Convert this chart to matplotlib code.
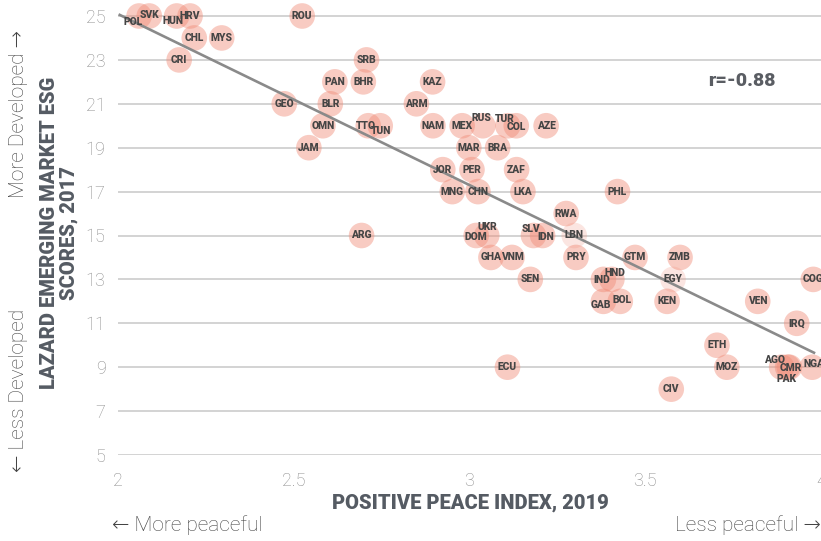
import matplotlib
matplotlib.use("Agg")
import matplotlib.pyplot as plt
import numpy as np

codes = ["POL", "SVK", "HUN", "HRV", "ROU", "CHL", "MYS", "CRI",
         "SRB", "PAN", "BHR", "KAZ", "GEO", "BLR", "ARM", "OMN",
         "TTO", "TUN", "NAM", "MEX", "RUS", "TUR", "COL", "AZE",
         "JAM", "MAR", "BRA", "JOR", "PER", "ZAF", "MNG", "CHN",
         "LKA", "PHL", "RWA", "ARG", "DOM", "UKR", "SLV", "IDN",
         "LBN", "GHA", "VNM", "PRY", "GTM", "ZMB", "SEN", "IND",
         "HND", "EGY", "COG", "GAB", "BOL", "KEN", "VEN", "IRQ",
         "ETH", "MOZ", "AGO", "CMR", "PAK", "NGA", "ECU", "CIV"]

ppi = [2.060, 2.089, 2.167, 2.205, 2.524, 2.217, 2.295, 2.174,
       2.707, 2.617, 2.698, 2.895, 2.473, 2.604, 2.849, 2.583,
       2.712, 2.746, 2.896, 2.979, 3.038, 3.109, 3.133, 3.218,
       2.543, 2.998, 3.080, 2.924, 3.007, 3.134, 2.951, 3.024,
       3.152, 3.421, 3.275, 2.693, 3.019, 3.049, 3.182, 3.208,
       3.298, 3.061, 3.121, 3.303, 3.471, 3.599, 3.173, 3.381,
       3.405, 3.579, 3.978, 3.381, 3.429, 3.562, 3.820, 3.931,
       3.704, 3.732, 3.888, 3.910, 3.905, 3.975, 3.108, 3.574]

esg = [25, 25, 25, 25, 25, 24, 24, 23,
       23, 22, 22, 22, 21, 21, 21, 20,
       20, 20, 20, 20, 20, 20, 20, 20,
       19, 19, 19, 18, 18, 18, 17, 17,
       17, 17, 16, 15, 15, 15, 15, 15,
       15, 14, 14, 14, 14, 14, 13, 13,
       13, 13, 13, 12, 12, 12, 12, 11,
       10, 9, 9, 9, 9, 9, 9, 8]

# trend line as drawn in the source (endpoints in data units)
trend_x = [2.005, 3.98]
trend_y = [25.05, 9.66]

r_text = "r=-0.88"

# label offsets in pixels (dx right, dy up)
offsets = {"POL": (-6, -6), "HUN": (-4, -5), "TUN": (1, -5), "RUS": (-1, 8),
           "TUR": (-3, 7), "COL": (0, -1), "UKR": (1, 8), "SLV": (-3, 7),
           "IDN": (3, -1), "HND": (3, 6), "IND": (-2, -1), "GAB": (-3, -4),
           "BOL": (2, 1), "AGO": (-7, 7), "CMR": (1, -1), "PAK": (-1, -12),
           "NGA": (2, 3), "DOM": (0, -2), "TTO": (-2, 0), "SVK": (0, 1)}
pale = {"LBN", "EGY"}

FAM = ["Roboto", "DejaVu Sans"]
W, H = 821, 541
fig = plt.figure(figsize=(W / 100, H / 100), dpi=100)
ax = fig.add_axes([118 / W, 1 - 455 / H, 1 - 118 / W, 455 / H])
ax.set_xlim(2, 2 + 703 / 352)
ax.set_ylim(5, 25 + 16 / 21.95)

for s in ax.spines.values():
    s.set_visible(False)

yt = list(range(5, 26, 2))
ax.set_yticks(yt)
ax.set_yticklabels([str(v) for v in yt])
xt = [2, 2.5, 3, 3.5, 4]
ax.set_xticks(xt)
ax.set_xticklabels(["2", "2.5", "3", "3.5", "4"])
ax.tick_params(length=0, labelsize=13, labelcolor="#8c8c8c")
ax.tick_params(axis="y", pad=9)
ax.tick_params(axis="x", pad=12)
for lab in ax.get_xticklabels() + ax.get_yticklabels():
    lab.set_family(FAM)
    lab.set_fontweight("light")

for v in yt:
    ax.axhline(v, color="#c8c8c8", lw=1.1, zorder=1)

x = np.array(ppi)
y = np.array(esg, dtype=float)
cols = []
for c in codes:
    cols.append((0.94, 0.55, 0.47, 0.22) if c in pale else (0.94, 0.55, 0.47, 0.45))
ax.scatter(x, y, s=340, c=cols, edgecolors="none", zorder=2)

ax.plot(trend_x, trend_y, color="#8a8a8a", lw=1.9, zorder=3)

for c, xi, yi in zip(codes, x, y):
    dx, dy = offsets.get(c, (0, 0))
    ax.annotate(c, (xi, yi), xytext=(dx, dy), textcoords="offset pixels",
                ha="center", va="center", fontsize=7.4, fontweight="heavy",
                color="#454545", family=FAM, zorder=4, annotation_clip=False)

fig.text(742 / W, 1 - 81 / H, r_text, ha="center", va="center", fontsize=14,
         fontweight="heavy", color="#5a5d63", family=FAM)

fig.text(470 / W, 1 - 503 / H, "POSITIVE PEACE INDEX, 2019", ha="center", va="center",
         fontsize=14.5, fontweight="heavy", color="#555b63", family=FAM)
fig.text(112 / W, 1 - 525 / H, "\u2190 More peaceful", ha="left", va="center",
         fontsize=15, color="#444444", fontweight="light", family=FAM)
fig.text(821 / W, 1 - 525 / H, "Less peaceful \u2192", ha="right", va="center",
         fontsize=15, color="#444444", fontweight="light", family=FAM)

fig.text(59 / W, 1 - 233 / H, "LAZARD EMERGING MARKET ESG\nSCORES, 2017", ha="center",
         va="center", rotation=90, fontsize=14.5, fontweight="heavy", color="#555b63",
         linespacing=1.05, family=FAM)
fig.text(18 / W, 1 - 114 / H, "More Developed \u2192", ha="center", va="center", rotation=90,
         fontsize=15, color="#444444", fontweight="light", family=FAM)
fig.text(18 / W, 1 - 390 / H, "\u2190 Less Developed", ha="center", va="center", rotation=90,
         fontsize=15, color="#444444", fontweight="light", family=FAM)

fig.savefig("out.png", dpi=100)
